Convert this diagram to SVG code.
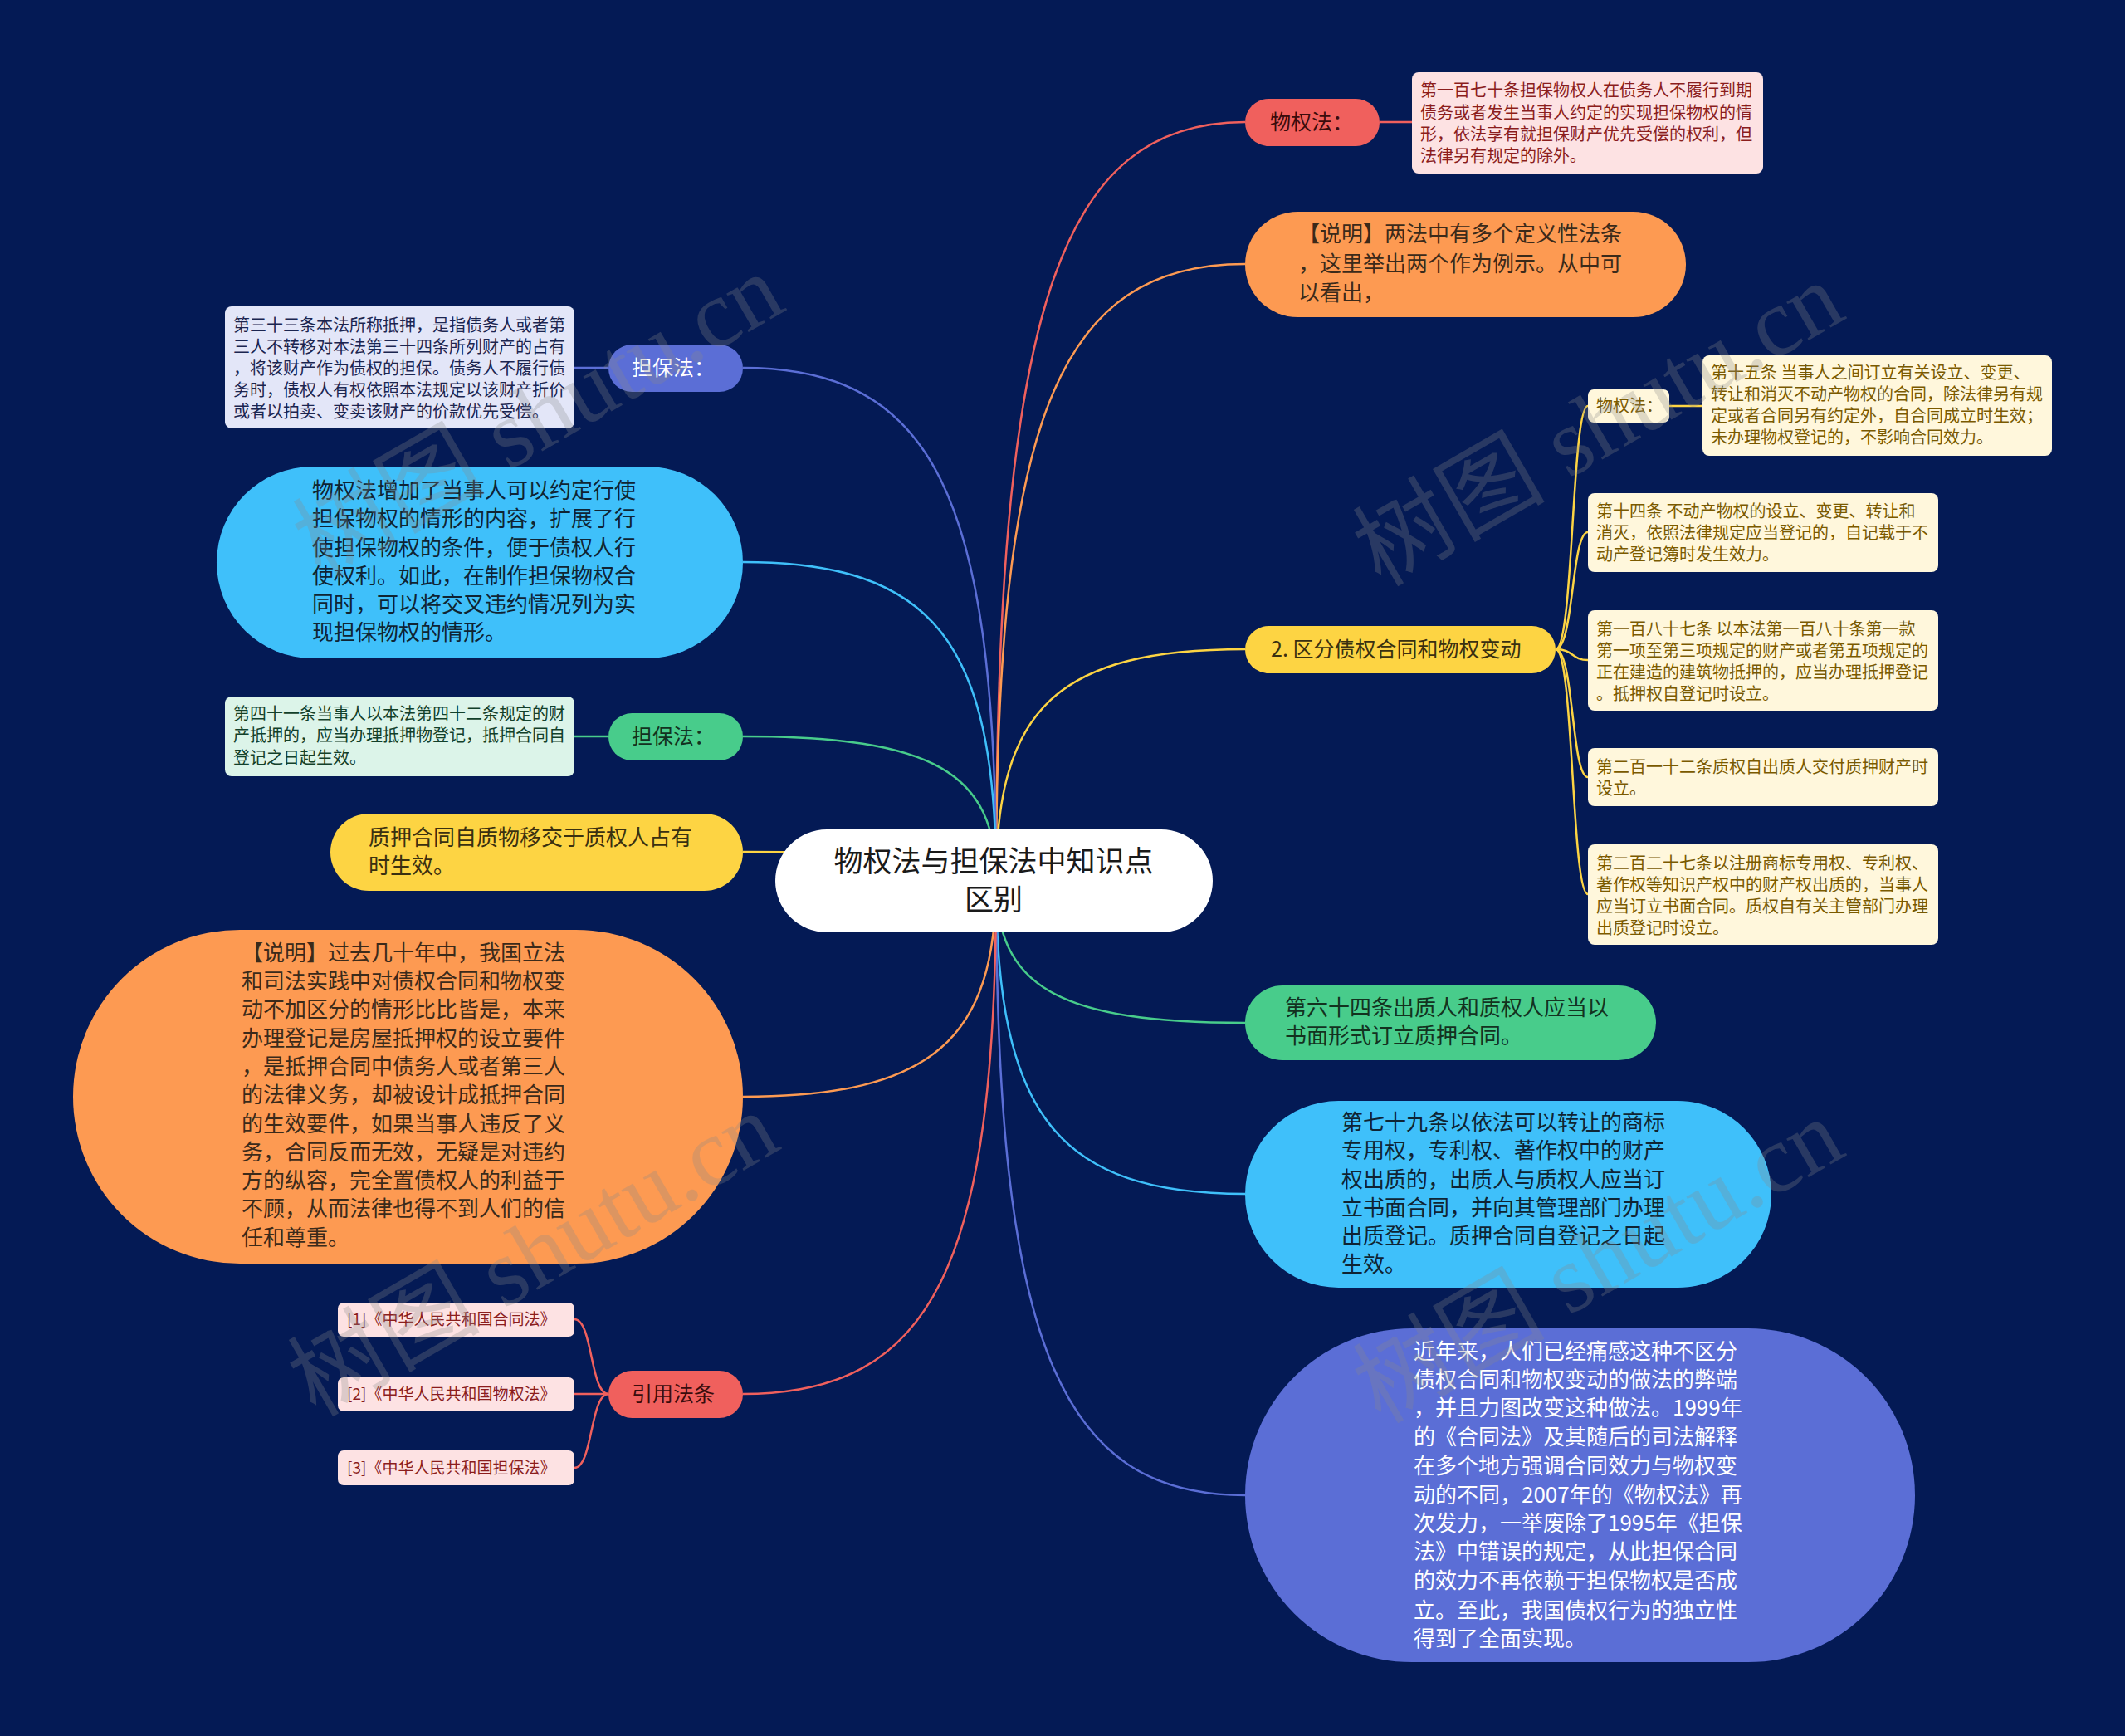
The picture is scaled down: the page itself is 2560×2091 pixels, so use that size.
<svg xmlns="http://www.w3.org/2000/svg" width="2560" height="2091" viewBox="0 0 2560 2091">
<style>
text{font-family:"Noto Sans CJK SC","Noto Sans",sans-serif}
.t26{font-size:26px}
.t20{font-size:20px}
.t25{font-size:25px}
.c{fill:none;stroke-width:2.5}
.wm{font-family:"Liberation Serif","Noto Sans CJK SC",serif;font-size:116px;fill:#8a8a8a;opacity:0.28}
</style>
<rect x="0" y="0" width="2560" height="2091" fill="#041A55"/>

<g id="connectors">
<path class="c" stroke="#F0605D" d="M1200 1061 C1200 375,1275 147,1500 147"/>
<path class="c" stroke="#FD9A52" d="M1200 1061 C1200 504,1275 318,1500 318"/>
<path class="c" stroke="#FDD443" d="M1200 1061 C1200 852,1275 782,1500 782"/>
<path class="c" stroke="#48CC8B" d="M1200 1061 C1200 1189,1275 1232,1500 1232"/>
<path class="c" stroke="#3FC0FA" d="M1200 1061 C1200 1344,1275 1438,1500 1438"/>
<path class="c" stroke="#5B6ED6" d="M1200 1061 C1200 1616,1275 1801,1500 1801"/>
<path class="c" stroke="#5B6ED6" d="M1200 1061 C1200 597,1124 443,895 443"/>
<path class="c" stroke="#3FC0FA" d="M1200 1061 C1200 773,1124 677,895 677"/>
<path class="c" stroke="#48CC8B" d="M1200 1061 C1200 930,1124 887,895 887"/>
<path class="c" stroke="#FDD443" d="M1200 1061 C1200 1035,1124 1026,895 1026"/>
<path class="c" stroke="#FD9A52" d="M1200 1061 C1200 1251,1124 1321,895 1321"/>
<path class="c" stroke="#F0605D" d="M1200 1061 C1200 1525,1124 1679,895 1679"/>
<path class="c" stroke="#F0605D" d="M1662 147 L1701 147"/>
<path class="c" stroke="#5B6ED6" d="M692 443 L733 443"/>
<path class="c" stroke="#48CC8B" d="M692 887 L733 887"/>
<path class="c" stroke="#FDD443" d="M2011 489 L2051 489"/>
<path class="c" stroke="#FDD443" d="M1874 782 C1896 782,1893 489,1913 489"/>
<path class="c" stroke="#FDD443" d="M1874 782 C1896 782,1893 641,1913 641"/>
<path class="c" stroke="#FDD443" d="M1874 782 C1896 782,1893 795,1913 795"/>
<path class="c" stroke="#FDD443" d="M1874 782 C1896 782,1893 936,1913 936"/>
<path class="c" stroke="#FDD443" d="M1874 782 C1896 782,1893 1077,1913 1077"/>
<path class="c" stroke="#F0605D" d="M733 1679 C711 1679,714 1589,692 1589"/>
<path class="c" stroke="#F0605D" d="M733 1679 L692 1679"/>
<path class="c" stroke="#F0605D" d="M733 1679 C711 1679,714 1768,692 1768"/>
</g>

<g id="center">
<rect x="934" y="999" width="527" height="124" rx="62" fill="#FFFFFF"/>
<text x="1197" y="1050" font-size="35" fill="#1a1a1a" text-anchor="middle">物权法与担保法中知识点</text>
<text x="1197" y="1096" font-size="35" fill="#1a1a1a" text-anchor="middle">区别</text>
</g>

<g id="r-wuquanfa">
<rect x="1500" y="119" width="162" height="57" rx="28.5" fill="#F0605D"/>
<text class="t25" x="1530" y="156" fill="#3a0c0c">物权法：</text>
</g>
<g id="r-wuquanfa-leaf">
<rect x="1701" y="87" width="423" height="122" rx="8" fill="#FDE2E3"/>
<g class="t20" fill="#8B1D1D">
<text x="1711" y="116">第一百七十条担保物权人在债务人不履行到期</text>
<text x="1711" y="143">债务或者发生当事人约定的实现担保物权的情</text>
<text x="1711" y="169">形，依法享有就担保财产优先受偿的权利，但</text>
<text x="1711" y="195">法律另有规定的除外。</text>
</g>
</g>

<g id="r-shuoming">
<rect x="1500" y="255" width="531" height="127" rx="63.5" fill="#FD9A52"/>
<g class="t26" fill="#3B2A1A">
<text x="1564" y="291">【说明】两法中有多个定义性法条</text>
<text x="1564" y="327">，这里举出两个作为例示。从中可</text>
<text x="1564" y="362">以看出，</text>
</g>
</g>

<g id="r-qufen">
<rect x="1500" y="754" width="374" height="57" rx="28.5" fill="#FDD443"/>
<text class="t25" x="1531" y="791" fill="#3a3010">2. 区分债权合同和物权变动</text>
</g>
<g id="y-wuquanfa">
<rect x="1913" y="469" width="98" height="40" rx="7" fill="#FFF7DC"/>
<text class="t20" x="1923" y="496" fill="#7A5A00">物权法：</text>
</g>
<g id="y-15">
<rect x="2051" y="428" width="421" height="121" rx="8" fill="#FFF7DC"/>
<g class="t20" fill="#7A5A00">
<text x="2061" y="456">第十五条 当事人之间订立有关设立、变更、</text>
<text x="2061" y="482">转让和消灭不动产物权的合同，除法律另有规</text>
<text x="2061" y="508">定或者合同另有约定外，自合同成立时生效；</text>
<text x="2061" y="534">未办理物权登记的，不影响合同效力。</text>
</g>
</g>
<g id="y-14">
<rect x="1913" y="594" width="422" height="95" rx="8" fill="#FFF7DC"/>
<g class="t20" fill="#7A5A00">
<text x="1923" y="623">第十四条 不动产物权的设立、变更、转让和</text>
<text x="1923" y="649">消灭，依照法律规定应当登记的，自记载于不</text>
<text x="1923" y="675">动产登记簿时发生效力。</text>
</g>
</g>
<g id="y-187">
<rect x="1913" y="735" width="422" height="121" rx="8" fill="#FFF7DC"/>
<g class="t20" fill="#7A5A00">
<text x="1923" y="765">第一百八十七条 以本法第一百八十条第一款</text>
<text x="1923" y="791">第一项至第三项规定的财产或者第五项规定的</text>
<text x="1923" y="817">正在建造的建筑物抵押的，应当办理抵押登记</text>
<text x="1923" y="843">。抵押权自登记时设立。</text>
</g>
</g>
<g id="y-212">
<rect x="1913" y="901" width="422" height="70" rx="8" fill="#FFF7DC"/>
<g class="t20" fill="#7A5A00">
<text x="1923" y="931">第二百一十二条质权自出质人交付质押财产时</text>
<text x="1923" y="957">设立。</text>
</g>
</g>
<g id="y-227">
<rect x="1913" y="1017" width="422" height="121" rx="8" fill="#FFF7DC"/>
<g class="t20" fill="#7A5A00">
<text x="1923" y="1047">第二百二十七条以注册商标专用权、专利权、</text>
<text x="1923" y="1073">著作权等知识产权中的财产权出质的，当事人</text>
<text x="1923" y="1099">应当订立书面合同。质权自有关主管部门办理</text>
<text x="1923" y="1125">出质登记时设立。</text>
</g>
</g>

<g id="r-64">
<rect x="1500" y="1187" width="495" height="90" rx="45" fill="#48CC8B"/>
<g class="t26" fill="#13321F">
<text x="1548" y="1223">第六十四条出质人和质权人应当以</text>
<text x="1548" y="1257">书面形式订立质押合同。</text>
</g>
</g>

<g id="r-79">
<rect x="1500" y="1326" width="634" height="225" rx="112.5" fill="#3FC0FA"/>
<g class="t26" fill="#0F2433">
<text x="1616" y="1361">第七十九条以依法可以转让的商标</text>
<text x="1616" y="1395">专用权，专利权、著作权中的财产</text>
<text x="1616" y="1430">权出质的，出质人与质权人应当订</text>
<text x="1616" y="1464">立书面合同，并向其管理部门办理</text>
<text x="1616" y="1498">出质登记。质押合同自登记之日起</text>
<text x="1616" y="1532">生效。</text>
</g>
</g>

<g id="r-jinnian">
<rect x="1500" y="1600" width="807" height="402" rx="201" fill="#5B6ED6"/>
<g class="t26" fill="#FFFFFF">
<text x="1703" y="1637">近年来，人们已经痛感这种不区分</text>
<text x="1703" y="1671">债权合同和物权变动的做法的弊端</text>
<text x="1703" y="1705">，并且力图改变这种做法。1999年</text>
<text x="1703" y="1740">的《合同法》及其随后的司法解释</text>
<text x="1703" y="1775">在多个地方强调合同效力与物权变</text>
<text x="1703" y="1810">动的不同，2007年的《物权法》再</text>
<text x="1703" y="1844">次发力，一举废除了1995年《担保</text>
<text x="1703" y="1878">法》中错误的规定，从此担保合同</text>
<text x="1703" y="1913">的效力不再依赖于担保物权是否成</text>
<text x="1703" y="1949">立。至此，我国债权行为的独立性</text>
<text x="1703" y="1983">得到了全面实现。</text>
</g>
</g>

<g id="l-danbaofa1">
<rect x="733" y="415" width="162" height="57" rx="28.5" fill="#5B6ED6"/>
<text class="t25" x="761" y="452" fill="#FFFFFF">担保法：</text>
</g>
<g id="l-danbaofa1-leaf">
<rect x="271" y="369" width="421" height="147" rx="8" fill="#E3E6F8"/>
<g class="t20" fill="#1B2550">
<text x="281" y="399">第三十三条本法所称抵押，是指债务人或者第</text>
<text x="281" y="425">三人不转移对本法第三十四条所列财产的占有</text>
<text x="281" y="451">，将该财产作为债权的担保。债务人不履行债</text>
<text x="281" y="477">务时，债权人有权依照本法规定以该财产折价</text>
<text x="281" y="503">或者以拍卖、变卖该财产的价款优先受偿。</text>
</g>
</g>

<g id="l-wuquanfa">
<rect x="261" y="562" width="634" height="231" rx="115.5" fill="#3FC0FA"/>
<g class="t26" fill="#0F2433">
<text x="376" y="600">物权法增加了当事人可以约定行使</text>
<text x="376" y="634">担保物权的情形的内容，扩展了行</text>
<text x="376" y="669">使担保物权的条件，便于债权人行</text>
<text x="376" y="703">使权利。如此，在制作担保物权合</text>
<text x="376" y="737">同时，可以将交叉违约情况列为实</text>
<text x="376" y="771">现担保物权的情形。</text>
</g>
</g>

<g id="l-danbaofa2">
<rect x="733" y="859" width="162" height="57" rx="28.5" fill="#48CC8B"/>
<text class="t25" x="761" y="896" fill="#13321F">担保法：</text>
</g>
<g id="l-danbaofa2-leaf">
<rect x="271" y="839" width="421" height="96" rx="8" fill="#DCF4E9"/>
<g class="t20" fill="#12402A">
<text x="281" y="867">第四十一条当事人以本法第四十二条规定的财</text>
<text x="281" y="893">产抵押的，应当办理抵押物登记，抵押合同自</text>
<text x="281" y="920">登记之日起生效。</text>
</g>
</g>

<g id="l-zhiya">
<rect x="398" y="980" width="497" height="93" rx="46.5" fill="#FDD443"/>
<g class="t26" fill="#3A3010">
<text x="444" y="1018">质押合同自质物移交于质权人占有</text>
<text x="444" y="1052">时生效。</text>
</g>
</g>

<g id="l-shuoming">
<rect x="88" y="1120" width="807" height="402" rx="201" fill="#FD9A52"/>
<g class="t26" fill="#3B2A1A">
<text x="291" y="1157">【说明】过去几十年中，我国立法</text>
<text x="291" y="1191">和司法实践中对债权合同和物权变</text>
<text x="291" y="1225">动不加区分的情形比比皆是，本来</text>
<text x="291" y="1260">办理登记是房屋抵押权的设立要件</text>
<text x="291" y="1294">，是抵押合同中债务人或者第三人</text>
<text x="291" y="1328">的法律义务，却被设计成抵押合同</text>
<text x="291" y="1363">的生效要件，如果当事人违反了义</text>
<text x="291" y="1397">务，合同反而无效，无疑是对违约</text>
<text x="291" y="1431">方的纵容，完全置债权人的利益于</text>
<text x="291" y="1465">不顾，从而法律也得不到人们的信</text>
<text x="291" y="1500">任和尊重。</text>
</g>
</g>

<g id="l-yinyong">
<rect x="733" y="1651" width="162" height="57" rx="28.5" fill="#F0605D"/>
<text class="t25" x="761" y="1688" fill="#3a0c0c">引用法条</text>
</g>
<g id="ref-1">
<rect x="407" y="1569" width="285" height="41" rx="7" fill="#FDE2E3"/>
<text x="418" y="1596" font-size="19" fill="#8B1D1D">[1]《中华人民共和国合同法》</text>
</g>
<g id="ref-2">
<rect x="407" y="1659" width="285" height="41" rx="7" fill="#FDE2E3"/>
<text x="418" y="1686" font-size="19" fill="#8B1D1D">[2]《中华人民共和国物权法》</text>
</g>
<g id="ref-3">
<rect x="407" y="1747" width="285" height="42" rx="7" fill="#FDE2E3"/>
<text x="418" y="1775" font-size="19" fill="#8B1D1D">[3]《中华人民共和国担保法》</text>
</g>

<g id="watermarks">
<text class="wm" text-anchor="middle" transform="translate(668,535) rotate(-30)">树图 shutu.cn</text>
<text class="wm" text-anchor="middle" transform="translate(1945,545) rotate(-30)">树图 shutu.cn</text>
<text class="wm" text-anchor="middle" transform="translate(662,1545) rotate(-30)">树图 shutu.cn</text>
<text class="wm" text-anchor="middle" transform="translate(1945,1553) rotate(-30)">树图 shutu.cn</text>
</g>
</svg>
